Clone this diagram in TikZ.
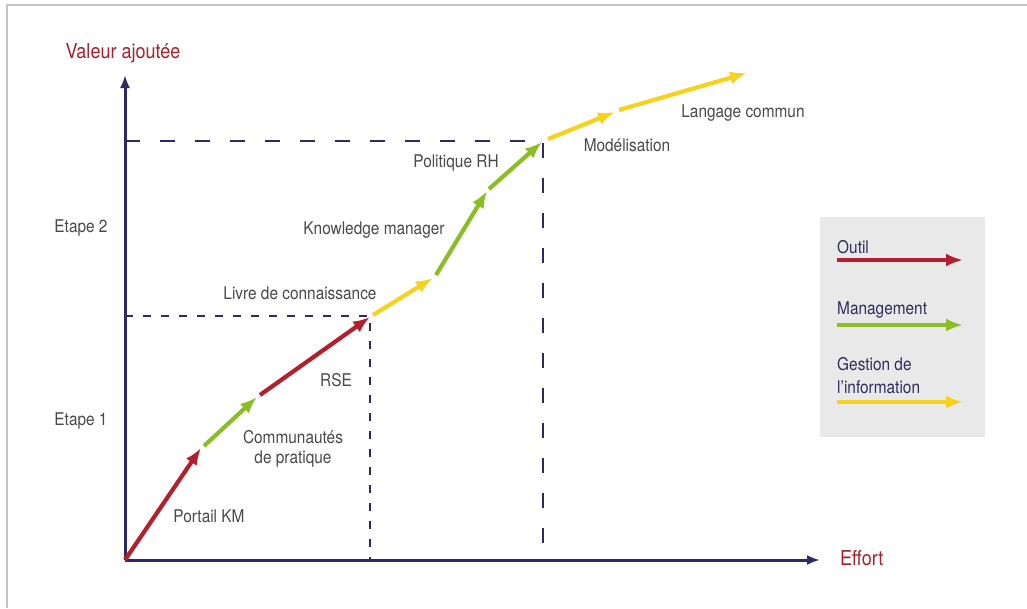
\documentclass[tikz,border=0pt]{standalone}
\usepackage{fontspec}
\setmainfont{TeX Gyre Heros}[FakeStretch=0.88]
\usetikzlibrary{arrows.meta}
\definecolor{axisnavy}{HTML}{2B2A66}
\definecolor{kmred}{HTML}{B21F2D}
\definecolor{kmgreen}{HTML}{8BBE25}
\definecolor{kmyellow}{HTML}{F6D21E}
\definecolor{labelgray}{HTML}{4A4A4D}
\definecolor{titlered}{HTML}{A3222E}
\definecolor{legendbg}{HTML}{E9E9E9}
\definecolor{legendtext}{HTML}{2F2D5C}
\definecolor{framegray}{HTML}{C4C4C4}
\tikzset{
  seg/.style={line width=4.2pt, -{Latex[length=17pt,width=13pt]}},
  outil/.style={seg, kmred},
  mgmt/.style={seg, kmgreen},
  info/.style={seg, kmyellow},
  axisline/.style={axisnavy, line width=3pt, -{Latex[length=13pt,width=10pt]}},
  guidesmall/.style={axisnavy, line width=1.8pt, dash pattern=on 8pt off 10pt},
  guidelarge/.style={axisnavy, line width=2pt, dash pattern=on 15pt off 20pt},
  lbl/.style={labelgray, font=\fontsize{17.5}{20}\selectfont, inner sep=0pt},
  axtitle/.style={titlered, font=\fontsize{20.5}{24}\selectfont, inner sep=0pt},
  legtxt/.style={legendtext, font=\fontsize{17.5}{23}\selectfont, inner sep=0pt, anchor=west, align=left},
}
\begin{document}
\begin{tikzpicture}[x=1pt, y=-1pt]
\useasboundingbox (0,0) rectangle (1027,608);
\fill[white] (0,0) rectangle (1027,608);
% frame lines (top and left)
\draw[framegray, line width=1.6pt] (7,608) -- (7,5) -- (1027,5);

% key coordinates
\coordinate (O) at (125,560);
\coordinate (ytop) at (125,75);
\coordinate (xend) at (820,560);
\coordinate (p1) at (201,448);
\coordinate (p2a) at (204,446);
\coordinate (p2) at (257,397);
\coordinate (p3a) at (260,395);
\coordinate (p3) at (370,317);
\coordinate (p4a) at (373,315);
\coordinate (p4) at (433,278);
\coordinate (p5a) at (436,275);
\coordinate (p5) at (487,191);
\coordinate (p6a) at (489,189);
\coordinate (p6) at (542,142);
\coordinate (p7a) at (548,139);
\coordinate (p7) at (615,112);
\coordinate (p8a) at (619,110);
\coordinate (p8) at (747,73);

% guides
\coordinate (gy1) at (125,316);
\coordinate (gx1) at (370,316);
\coordinate (gb1) at (370,560);
\coordinate (gy2) at (125,141);
\coordinate (gx2) at (543,141);
\coordinate (gb2) at (543,560);
\draw[guidesmall] (gy1) -- (gx1) -- (gb1);
\draw[guidelarge] (gy2) -- (gx2) -- (gb2);

% axes
\draw[axisline] (O) -- (ytop);
\draw[axisline] (O) -- (xend);

% axis titles
\node[axtitle] (vtitle) at (123,53) {Valeur ajoutée};
\node[axtitle, anchor=west] (etitle) at (840,558) {Effort};
\node[lbl] (etape2) at (81,228) {Etape 2};
\node[lbl] (etape1) at (81,421) {Etape 1};

% curve segments
\draw[outil] (O) -- (p1);
\draw[mgmt] (p2a) -- (p2);
\draw[outil] (p3a) -- (p3);
\draw[info] (p4a) -- (p4);
\draw[mgmt] (p5a) -- (p5);
\draw[mgmt] (p6a) -- (p6);
\draw[info] (p7a) -- (p7);
\draw[info] (p8a) -- (p8);

% labels
\node[lbl] (portail) at (209,516) {Portail KM};
\node[lbl, align=center] (commu) at (293,449) {Communautés\\de pratique};
\node[lbl] (rse) at (336,380) {RSE};
\node[lbl] (livre) at (300,293) {Livre de connaissance};
\node[lbl] (kmgr) at (374,230) {Knowledge manager};
\node[lbl] (polrh) at (456,163) {Politique RH};
\node[lbl] (model) at (627,145) {Modélisation};
\node[lbl] (langage) at (743,113) {Langage commun};

% legend
\node[fill=legendbg, minimum width=165pt, minimum height=220pt, inner sep=0pt, anchor=north west] (legend) at (820,217) {};
\node[legtxt] (lout) at (837,247) {Outil};
\coordinate (la1) at (837,260);
\coordinate (la2) at (963,260);
\draw[outil] (la1) -- (la2);
\node[legtxt] (lman) at (837,310) {Management};
\coordinate (lb1) at (837,325);
\coordinate (lb2) at (963,325);
\draw[mgmt] (lb1) -- (lb2);
\node[legtxt] (lgest) at (837,376) {Gestion de\\l’information};
\coordinate (lc1) at (837,402);
\coordinate (lc2) at (963,402);
\draw[info] (lc1) -- (lc2);
\end{tikzpicture}
\end{document}
